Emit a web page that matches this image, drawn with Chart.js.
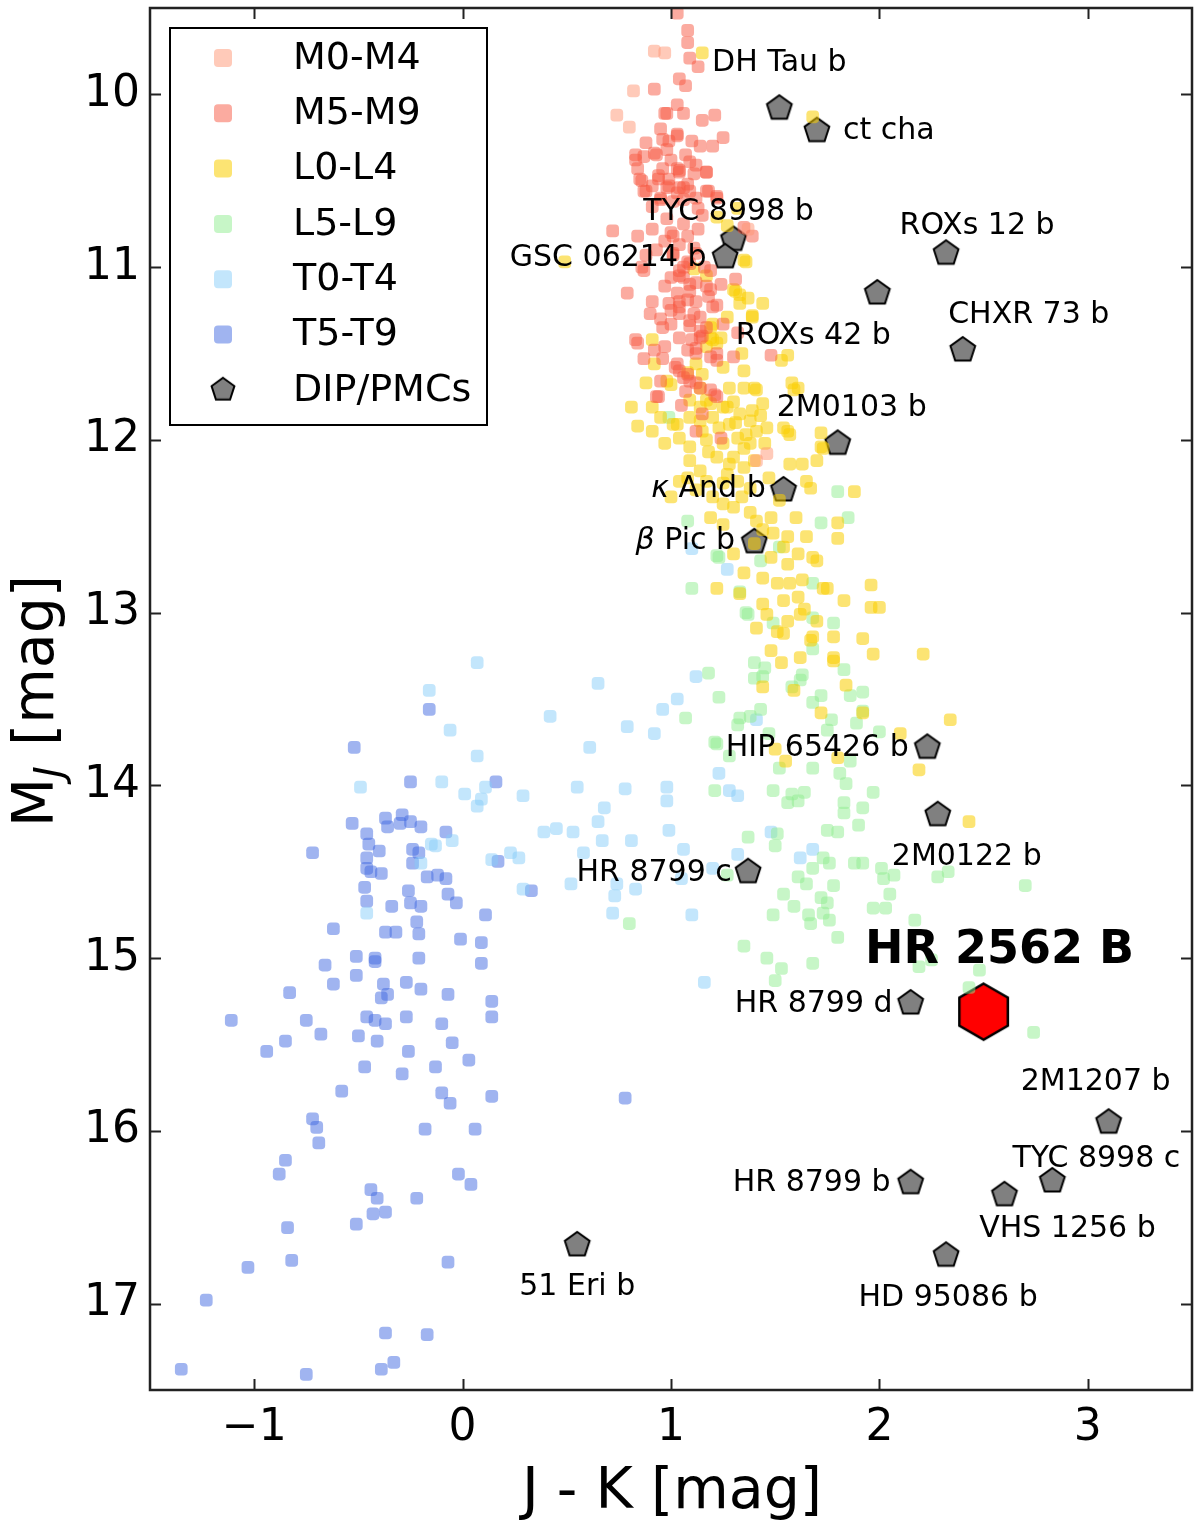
<!DOCTYPE html>
<html>
<head>
<meta charset="utf-8">
<script src="https://cdn.jsdelivr.net/npm/chart.js@4"></script>
<style>
  body { margin: 0; background: #fff; }
  #wrap { width: 1200px; height: 1525px; }
</style>
</head>
<body>
<div id="wrap"><canvas id="cmd"></canvas></div>
<script>
// field objects, [J-K, M_J] pairs per spectral class
const m0m4 = [[0.92,9.75],[0.97,9.76],[0.82,9.98],[0.74,10.12],[1.41,12.12],[1.46,12.08],[0.80,10.19],[1.37,10.78]];

const m5m9 = [[1.03,9.53],[1.08,9.63],[1.08,9.70],[1.09,9.79],[1.13,9.84],[1.04,9.91],[1.07,9.95],[0.92,9.97],[0.97,10.11],
  [1.03,10.06],[1.06,10.11],[1.15,10.15],[1.21,10.12],[0.95,10.20],[1.03,10.23],[1.25,10.25],[0.88,10.28],[0.99,10.27],
  [1.10,10.27],[1.14,10.30],[1.20,10.30],[0.83,10.35],[0.93,10.35],[1.00,10.38],[1.07,10.35],[0.84,10.43],[0.96,10.43],
  [1.12,10.41],[0.86,10.50],[0.94,10.49],[1.04,10.45],[1.11,10.46],[1.17,10.45],[0.91,10.53],[0.99,10.53],[0.87,10.56],
  [1.04,10.54],[1.09,10.56],[1.18,10.56],[0.95,10.60],[1.01,10.62],[1.06,10.61],[0.91,10.65],[1.13,10.66],[1.22,10.60],
  [0.72,10.79],[0.84,10.82],[0.91,10.78],[1.01,10.82],[1.08,10.82],[1.39,10.82],[0.97,10.85],[1.04,10.87],[1.11,10.89],
  [0.88,10.93],[1.01,10.93],[1.08,10.97],[0.86,11.00],[1.04,11.02],[0.79,11.15],[0.97,11.11],[1.09,11.14],[1.17,11.11],
  [0.91,11.20],[1.04,11.20],[0.90,11.27],[1.03,11.15],[0.83,11.42],[0.87,11.53],[0.92,11.48],[1.00,11.33],[1.04,11.41],
  [1.08,11.48],[1.12,11.50],[1.02,11.58],[1.06,11.64],[0.95,11.66],[1.20,11.23],[1.24,11.10],[1.31,11.07],[1.12,11.20],
  [1.14,11.29],[1.06,11.06],[1.09,10.98],[1.17,11.35],[1.25,11.33],[1.30,11.52],[1.35,10.77],[0.83,10.38],[1.04,11.23],
  [1.09,11.31],[1.10,11.42],[1.04,11.60],[1.09,11.66],[1.19,11.71],[1.22,11.75],[0.94,11.75],[1.12,11.95],[1.24,11.99],
  [1.32,11.38],[1.48,11.51],[1.22,11.54],[1.15,10.70],[0.98,10.72],[1.06,10.75],[1.12,10.92],[0.95,11.30],[1.15,11.40],
  [1.07,11.72],[1.15,11.85],[1.05,11.80],[0.87,10.36],[0.94,10.47],[0.98,10.54],[1.03,10.57],[1.08,10.52],[1.12,10.60],
  [1.17,10.56],[1.04,10.44],[1.00,10.80],[1.01,10.92],[1.06,11.00],[1.00,11.06],[1.09,11.10],[1.08,11.19],[0.99,11.21],
  [1.04,11.27],[1.14,11.41],[1.19,11.52],[1.03,11.56],[1.12,11.67],[1.13,10.78],[1.16,11.00],[0.93,10.90],[1.18,11.17],
  [0.96,11.35],[0.84,11.44],[0.96,11.53],[0.97,11.46],[1.04,11.05],[1.11,11.27],[1.12,11.09],[1.19,11.13],[1.22,11.22],
  [1.08,11.62],[1.14,11.70],[1.21,11.74],[0.93,11.75],[1.00,11.25],[1.09,11.34],[1.14,11.37],[1.12,11.47],[1.22,11.50],
  [1.19,11.02],[0.87,11.02],[0.98,10.11],[1.03,10.24],[0.96,10.26],[0.92,10.34],[0.98,10.32],[1.03,10.43],[1.09,10.39],
  [1.17,10.45],[0.85,10.49],[0.99,10.49],[0.88,10.56],[1.06,10.54],[1.22,10.59],[0.95,10.61]];

const l0l4 = [[1.15,9.76],[1.68,10.13],[1.32,10.66],[1.27,10.76],[1.36,10.97],[1.31,11.14],[1.33,11.16],[1.44,11.21],
  [1.17,11.05],[1.11,11.01],[0.49,10.97],[1.22,10.71],[1.35,10.96],[1.37,11.18],[1.39,11.29],[1.20,11.33],[1.19,11.41],
  [1.22,11.44],[1.34,11.50],[0.91,11.42],[1.12,11.56],[1.15,11.62],[0.88,11.67],[0.98,11.66],[1.08,11.61],[1.58,11.67],
  [1.53,11.54],[1.25,11.58],[1.39,11.28],[1.56,11.51],[0.81,11.81],[0.84,11.92],[0.91,11.81],[0.91,11.95],[0.97,12.02],
  [1.01,11.91],[1.04,11.99],[1.09,11.87],[1.14,11.81],[1.15,11.95],[1.20,11.87],[1.25,11.81],[1.28,11.91],[1.33,11.85],
  [1.38,11.89],[1.41,11.95],[1.46,11.93],[1.44,11.79],[1.35,11.70],[1.41,11.71],[1.59,11.71],[1.54,11.93],[1.57,11.97],
  [1.72,11.96],[1.72,12.04],[1.32,11.99],[1.38,12.02],[1.25,12.02],[1.17,12.00],[1.09,12.04],[1.22,12.10],[1.28,12.14],
  [1.35,12.16],[1.09,12.12],[1.14,12.18],[1.08,12.22],[1.17,12.24],[1.25,12.25],[1.32,12.24],[1.38,12.28],[1.04,12.24],
  [1.57,12.14],[1.63,12.14],[1.70,12.12],[1.65,12.24],[1.67,12.28],[1.88,12.30],[1.00,12.33],[1.20,12.33],[1.25,12.37],
  [1.30,12.39],[1.19,12.45],[1.25,12.49],[1.41,12.47],[1.48,12.45],[1.44,12.52],[1.49,12.54],[1.56,12.56],[1.65,12.56],
  [1.54,12.62],[1.61,12.66],[1.80,12.48],[1.80,12.57],[1.30,12.66],[1.48,12.68],[1.56,12.72],[1.35,12.77],[1.44,12.80],
  [1.22,12.86],[1.51,12.83],[1.57,12.83],[1.63,12.81],[1.73,12.86],[1.83,12.93],[1.96,12.84],[1.44,12.95],[1.54,12.93],
  [1.61,12.91],[1.14,11.70],[1.19,11.79],[1.40,11.70],[1.61,11.70],[1.56,11.95],[1.73,12.05],[1.68,12.68],[1.75,12.86],
  [1.96,12.97],[2.00,12.97],[1.46,13.01],[1.56,13.05],[1.62,13.01],[1.70,13.05],[1.68,13.14],[1.54,13.12],[1.41,13.09],
  [1.33,12.89],[1.78,13.14],[1.92,13.15],[1.97,13.24],[1.78,13.26],[1.48,13.22],[1.62,13.26],[1.51,13.11],[1.67,13.16],
  [1.53,13.29],[1.78,13.28],[2.21,13.24],[1.44,13.43],[1.59,13.45],[1.84,13.42],[1.72,13.58],[1.92,13.58],[2.34,13.62],
  [2.10,13.70],[1.50,13.79],[1.55,13.86],[1.80,13.84],[2.19,13.91],[2.43,14.21],[1.28,11.70],[1.30,11.78],[1.35,12.05],
  [1.45,12.02],[1.30,12.10],[1.40,12.12],[1.23,11.93],[1.36,11.97],[1.43,11.86],[1.31,11.90],[1.18,12.07],[1.27,12.20],
  [1.12,12.29],[1.34,12.33],[1.47,12.22],[1.52,12.35],[1.38,12.42],[1.60,12.45],[1.70,12.70],[1.40,12.60],[1.64,12.98],
  [1.30,11.13],[1.33,11.21],[1.27,11.29],[1.19,11.35],[1.20,11.42],[1.24,11.41],[0.92,11.56],[1.17,11.46],[1.35,11.60],
  [1.00,11.68],[1.09,11.77],[1.17,11.77],[1.27,11.81],[1.39,11.83],[0.95,11.87],[1.03,11.91],[1.14,11.89]];

const l5l9 = [[0.99,11.87],[1.80,12.30],[1.08,12.47],[1.72,12.48],[1.85,12.45],[1.23,12.68],[1.43,12.70],[1.52,12.62],
  [1.10,12.86],[1.33,12.88],[1.22,12.67],[1.36,13.00],[1.49,13.06],[1.68,13.03],[1.78,13.06],[1.68,13.21],[1.68,12.83],
  [1.37,13.01],[1.18,13.35],[1.23,13.49],[1.40,13.29],[1.45,13.32],[1.40,13.38],[1.44,13.37],[1.63,13.36],[1.62,13.39],
  [1.58,13.43],[1.72,13.48],[1.68,13.52],[1.83,13.33],[1.86,13.48],[1.92,13.46],[1.92,13.57],[1.89,13.64],[1.77,13.62],
  [1.75,13.68],[1.43,13.56],[1.33,13.61],[1.32,13.65],[1.38,13.60],[1.47,13.70],[2.00,13.69],[1.22,13.76],[1.28,13.83],
  [1.52,13.90],[1.68,13.90],[1.81,13.93],[1.86,13.86],[1.84,13.99],[1.21,14.03],[1.49,14.03],[1.58,14.05],[1.64,14.04],
  [1.61,14.09],[1.56,14.10],[1.83,14.10],[1.83,14.16],[1.92,14.13],[1.97,14.04],[1.90,14.23],[1.75,14.26],[1.80,14.27],
  [1.37,14.30],[1.51,14.28],[1.50,14.35],[1.73,14.42],[1.76,14.45],[1.68,14.48],[1.88,14.45],[1.92,14.45],[1.61,14.53],
  [1.65,14.57],[1.78,14.58],[1.54,14.63],[1.72,14.65],[1.75,14.68],[1.59,14.70],[2.01,14.48],[2.07,14.52],[2.02,14.54],
  [2.05,14.63],[1.97,14.71],[2.03,14.71],[2.28,14.53],[2.33,14.50],[2.70,14.58],[1.49,14.75],[1.66,14.75],[1.73,14.74],
  [1.67,14.80],[1.76,14.78],[2.17,14.78],[1.80,14.88],[1.35,14.93],[1.46,15.00],[1.53,15.06],[1.68,15.03],[1.50,15.13],
  [2.19,15.05],[2.25,15.01],[2.48,15.07],[2.43,15.17],[2.74,15.43],[1.07,13.61],[1.21,13.75],[1.27,14.52],[0.80,14.80]];

const t0t4 = [[0.07,13.29],[-0.16,13.45],[-0.06,13.68],[0.07,13.83],[-0.10,13.98],[0.01,14.05],[0.11,14.01],[0.09,14.08],
  [0.07,14.12],[0.29,14.06],[0.42,13.60],[0.65,13.41],[0.61,13.78],[0.79,13.66],[0.92,13.70],[0.96,13.56],[1.03,13.50],
  [1.12,13.37],[0.55,14.01],[0.78,14.02],[0.98,14.01],[0.98,14.09],[0.68,14.13],[0.65,14.21],[0.39,14.27],[0.45,14.25],
  [0.53,14.27],[0.67,14.32],[0.81,14.32],[0.99,14.26],[1.06,14.37],[0.23,14.39],[0.27,14.42],[0.14,14.43],[0.58,14.39],
  [0.29,14.60],[0.52,14.57],[0.74,14.57],[0.83,14.60],[0.73,14.64],[0.72,14.74],[1.10,14.75],[1.32,14.40],[1.48,14.27],
  [1.20,14.48],[1.05,14.54],[-0.15,14.34],[-0.13,14.35],[-0.05,14.32],[-0.20,14.45],[1.23,13.93],[1.28,14.03],[1.32,14.06],
  [1.41,13.62],[1.68,14.37],[1.62,14.42],[1.16,15.14],[-0.49,14.01],[-0.46,14.74],[1.10,12.63],[1.27,12.75]];

const t5t9 = [[-0.52,13.78],[-0.16,13.56],[-0.25,13.98],[0.16,13.98],[-0.53,14.22],[-0.37,14.19],[-0.36,14.24],[-0.29,14.17],
  [-0.30,14.22],[-0.25,14.21],[-0.20,14.24],[-0.08,14.27],[-0.46,14.28],[-0.45,14.34],[-0.40,14.38],[-0.24,14.37],
  [-0.21,14.39],[-0.72,14.39],[-0.46,14.42],[-0.46,14.48],[-0.44,14.50],[-0.39,14.51],[-0.24,14.45],[-0.17,14.53],
  [-0.12,14.52],[-0.08,14.54],[0.17,14.44],[-0.47,14.59],[-0.26,14.61],[-0.07,14.63],[-0.46,14.67],[-0.34,14.70],
  [-0.25,14.68],[-0.20,14.70],[-0.03,14.68],[0.11,14.75],[-0.22,14.79],[-0.62,14.83],[-0.37,14.85],[-0.32,14.85],
  [-0.21,14.86],[-0.01,14.89],[0.09,14.91],[-0.51,14.99],[-0.42,15.00],[-0.42,15.02],[-0.21,15.00],[0.09,15.03],
  [-0.66,15.04],[-0.51,15.10],[-0.62,15.15],[-0.83,15.20],[-0.38,15.15],[-0.39,15.23],[-0.36,15.21],[-0.27,15.14],
  [-0.20,15.18],[-0.07,15.21],[0.14,15.25],[-1.11,15.36],[-0.75,15.36],[-0.46,15.34],[-0.42,15.36],[-0.37,15.38],
  [-0.27,15.34],[-0.10,15.38],[0.14,15.34],[-0.85,15.48],[-0.68,15.44],[-0.94,15.54],[-0.50,15.45],[-0.41,15.48],
  [-0.26,15.54],[-0.05,15.49],[-0.47,15.63],[-0.29,15.67],[-0.13,15.63],[0.03,15.59],[-0.58,15.77],[-0.10,15.78],
  [-0.06,15.84],[0.14,15.80],[-0.72,15.93],[-0.70,15.98],[-0.69,16.07],[-0.18,15.99],[0.06,15.99],[-0.85,16.17],
  [-0.88,16.25],[-0.02,16.25],[0.04,16.31],[-0.44,16.34],[-0.41,16.39],[-0.22,16.39],[-0.43,16.48],[-0.37,16.47],
  [-0.51,16.54],[-0.84,16.56],[-0.82,16.75],[-1.03,16.79],[-0.07,16.76],[-1.23,16.98],[-0.37,17.17],[-0.17,17.18],
  [-1.35,17.38],[-0.75,17.41],[-0.39,17.38],[-0.33,17.34],[0.78,15.81],[0.33,14.61]];

// directly imaged planets / planetary-mass companions
const planetNames = ['DH Tau b','ct cha','TYC 8998 b','GSC 06214 b','ROXs 12 b','ROXs 42 b','CHXR 73 b','2M0103 b',
  'κ And b','β Pic b','HIP 65426 b','2M0122 b','HR 8799 c','HR 8799 d','2M1207 b','TYC 8998 c','HR 8799 b',
  'VHS 1256 b','HD 95086 b','51 Eri b'];
const planetJK = [1.52,1.70,1.30,1.26,2.32,1.99,2.40,1.80,1.54,1.40,2.23,2.28,1.37,2.15,3.10,2.83,2.15,2.60,2.32,0.55];
const planetMJ = [10.08,10.21,10.84,10.94,10.92,11.15,11.48,12.02,12.29,12.59,13.78,14.17,14.50,15.26,15.95,16.29,16.30,16.37,16.72,16.66];
// label offsets from marker, in pixels
const labelOffsets = [[0,-45],[72,1],[-5,-27],[-117,1],[31,-27],[-64,43],[66,-35],[14,-35],[-75,-1],[-69,-1],
  [-110,1],[29,42],[-94,1],[-97,1],[-13,-40],[44,-22],[-99,1],[63,34],[2,43],[0,42]];

const targetName = 'HR 2562 B';
const targetJK = [2.50];
const targetMJ = [15.31];

const xTicks = [-1, 0, 1, 2, 3];
const yTicks = [10, 11, 12, 13, 14, 15, 16, 17];

const FONT = '"DejaVu Sans", sans-serif';

function polygon(n, r, fill, lw, rot) {
  const s = Math.ceil(2 * r + lw * 2 + 2);
  const c = document.createElement('canvas');
  c.width = s; c.height = s;
  const g = c.getContext('2d');
  g.beginPath();
  for (let i = 0; i < n; i++) {
    const a = rot + i * 2 * Math.PI / n;
    g.lineTo(s / 2 + r * Math.cos(a), s / 2 + r * Math.sin(a));
  }
  g.closePath();
  g.fillStyle = fill;
  g.fill();
  g.lineWidth = lw;
  g.strokeStyle = '#000';
  g.lineJoin = 'miter';
  g.stroke();
  return c;
}
const pentagon = polygon(5, 13, '#808080', 2, -Math.PI / 2);
const pentagonSmall = polygon(5, 12, '#808080', 2, -Math.PI / 2);
const hexagon = polygon(6, 28, '#ff0000', 2.5, -Math.PI / 2);

const pts = arr => arr.map(p => ({ x: p[0], y: p[1] }));
const field = (label, arr, color) => ({
  label, data: pts(arr), backgroundColor: color, borderWidth: 0,
  pointStyle: 'rectRounded', pointRadius: 7.4, pointHoverRadius: 7.4
});

const datasets = [
  field('M0-M4', m0m4, 'rgba(255,150,115,0.5)'),
  field('M5-M9', m5m9, 'rgba(248,88,66,0.5)'),
  field('L0-L4', l0l4, 'rgba(250,206,0,0.55)'),
  field('L5-L9', l5l9, 'rgba(144,238,144,0.5)'),
  field('T0-T4', t0t4, 'rgba(135,206,250,0.5)'),
  field('T5-T9', t5t9, 'rgba(65,105,225,0.5)'),
  {
    label: 'DIP/PMCs',
    data: planetJK.map((x, i) => ({ x, y: planetMJ[i] })),
    pointStyle: pentagon, pointRadius: 13
  },
  {
    label: targetName,
    data: targetJK.map((x, i) => ({ x, y: targetMJ[i] })),
    pointStyle: hexagon, pointRadius: 28
  }
];

const frameTicks = {
  id: 'frameTicks',
  afterDatasetsDraw(chart) {
    const { ctx, chartArea: a, scales: { x, y } } = chart;
    ctx.save();
    ctx.strokeStyle = '#222';
    ctx.lineWidth = 2;
    const L = 11;
    ctx.beginPath();
    xTicks.forEach(v => {
      const px = Math.round(x.getPixelForValue(v)) + 0.5;
      ctx.moveTo(px, a.bottom); ctx.lineTo(px, a.bottom - L);
      ctx.moveTo(px, a.top); ctx.lineTo(px, a.top + L);
    });
    yTicks.forEach(v => {
      const py = Math.round(y.getPixelForValue(v)) + 0.5;
      ctx.moveTo(a.left, py); ctx.lineTo(a.left + L, py);
      ctx.moveTo(a.right, py); ctx.lineTo(a.right - L, py);
    });
    ctx.stroke();
    ctx.lineWidth = 2.5;
    ctx.strokeRect(a.left, a.top, a.right - a.left, a.bottom - a.top);
    ctx.restore();
  }
};

const planetLabels = {
  id: 'planetLabels',
  afterDatasetsDraw(chart) {
    const { ctx, scales: { x, y } } = chart;
    ctx.save();
    ctx.fillStyle = '#000';
    ctx.textBaseline = 'middle';
    planetNames.forEach((name, i) => {
      const cx = x.getPixelForValue(planetJK[i]) + labelOffsets[i][0];
      const cy = y.getPixelForValue(planetMJ[i]) + labelOffsets[i][1];
      const greek = /^[κβ] /.test(name);
      if (greek) {
        const head = name[0], rest = name.slice(1);
        ctx.font = 'italic 30px ' + FONT;
        const w1 = ctx.measureText(head).width;
        ctx.font = '30px ' + FONT;
        const w2 = ctx.measureText(rest).width;
        const x0 = cx - (w1 + w2) / 2;
        ctx.textAlign = 'left';
        ctx.font = 'italic 30px ' + FONT;
        ctx.fillText(head, x0, cy);
        ctx.font = '30px ' + FONT;
        ctx.fillText(rest, x0 + w1, cy);
      } else {
        ctx.textAlign = 'center';
        ctx.font = '30px ' + FONT;
        ctx.fillText(name, cx, cy);
      }
    });
    ctx.font = 'bold 46px ' + FONT;
    ctx.textAlign = 'center';
    ctx.fillText(targetName, x.getPixelForValue(targetJK[0]) + 16, y.getPixelForValue(targetMJ[0]) - 61);
    ctx.restore();
  }
};

const boxLegend = {
  id: 'boxLegend',
  afterDraw(chart) {
    const { ctx, chartArea: a } = chart;
    const left = a.left + 20, top = a.top + 20, w = 317, h = 397;
    ctx.save();
    ctx.fillStyle = '#fff';
    ctx.fillRect(left, top, w, h);
    ctx.strokeStyle = '#000';
    ctx.lineWidth = 2;
    ctx.strokeRect(left, top, w, h);
    const items = chart.data.datasets.slice(0, 7);
    items.forEach((ds, i) => {
      const cy = top + 30 + i * 55.3;
      const mx = left + 53;
      if (i < 6) {
        ctx.fillStyle = ds.backgroundColor;
        ctx.beginPath();
        ctx.roundRect(mx - 9, cy - 9, 18, 18, 4);
        ctx.fill();
      } else {
        ctx.drawImage(pentagonSmall, mx - pentagonSmall.width / 2, cy - pentagonSmall.height / 2);
      }
      ctx.fillStyle = '#000';
      ctx.font = '38px ' + FONT;
      ctx.textAlign = 'left';
      ctx.textBaseline = 'middle';
      ctx.fillText(ds.label, left + 123, cy + 1);
    });
    ctx.restore();
  }
};

const axisTitles = {
  id: 'axisTitles',
  afterDraw(chart) {
    const { ctx, chartArea: a } = chart;
    ctx.save();
    ctx.fillStyle = '#000';
    ctx.textBaseline = 'alphabetic';
    ctx.font = '57px ' + FONT;
    ctx.textAlign = 'center';
    ctx.fillText('J - K [mag]', (a.left + a.right) / 2 + 1, 1508);
    // y title with italic subscript
    ctx.translate(53, (a.top + a.bottom) / 2 + 2);
    ctx.rotate(-Math.PI / 2);
    ctx.font = '57px ' + FONT;
    const wM = ctx.measureText('M').width;
    const rest = ' [mag]';
    const wR = ctx.measureText(rest).width;
    ctx.font = 'italic 40px ' + FONT;
    const wJ = ctx.measureText('J').width + 2;
    let x0 = -(wM + wJ + wR) / 2;
    ctx.textAlign = 'left';
    ctx.font = '57px ' + FONT;
    ctx.fillText('M', x0, 0);
    ctx.font = 'italic 40px ' + FONT;
    ctx.fillText('J', x0 + wM, 10);
    ctx.font = '57px ' + FONT;
    ctx.fillText(rest, x0 + wM + wJ, 0);
    ctx.restore();
  }
};

new Chart(document.getElementById('cmd'), {
  type: 'scatter',
  data: { datasets },
  options: {
    responsive: true,
    maintainAspectRatio: false,
    animation: false,
    events: [],
    layout: { autoPadding: false, padding: { top: 8, right: 8, left: 0, bottom: 0 } },
    plugins: {
      legend: { display: false },
      tooltip: { enabled: false }
    },
    scales: {
      x: {
        type: 'linear', min: -1.5, max: 3.5,
        afterBuildTicks: s => { s.ticks = xTicks.map(v => ({ value: v })); },
        afterFit: s => { s.height = 135; s.paddingLeft = 0; s.paddingRight = 0; },
        grid: { display: false, drawTicks: false },
        border: { display: false },
        ticks: {
          color: '#000', padding: 12, font: { size: 44, family: FONT },
          callback: v => (v < 0 ? '\u2212' + Math.abs(v) : String(v))
        }
      },
      y: {
        type: 'linear', min: 9.5, max: 17.5, reverse: true,
        afterBuildTicks: s => { s.ticks = yTicks.map(v => ({ value: v })); },
        afterFit: s => { s.width = 150; s.paddingTop = 0; s.paddingBottom = 0; },
        grid: { display: false, drawTicks: false },
        border: { display: false },
        ticks: { color: '#000', padding: 10, font: { size: 44, family: FONT } }
      }
    }
  },
  plugins: [frameTicks, planetLabels, boxLegend, axisTitles]
});
</script>
</body>
</html>
